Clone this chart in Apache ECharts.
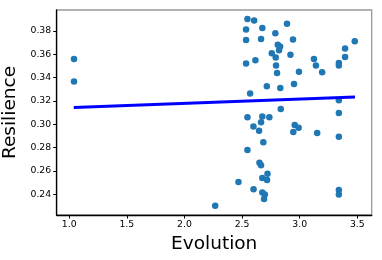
<!DOCTYPE html>
<html>
<head>
<meta charset="utf-8">
<script src="https://cdn.jsdelivr.net/npm/echarts@6/dist/echarts.min.js"></script>
<style>
  html, body { margin: 0; padding: 0; background: #fff; }
  #chart { width: 382px; height: 260px; }
</style>
</head>
<body>
<div id="chart"></div>
<script>
// scatter points
const evolution = [
  1.042, 1.042, 2.547, 2.605, 2.676, 2.535, 2.890, 2.789, 2.535, 2.665,
  2.810, 2.830, 2.821, 2.758, 2.792, 2.920, 2.535, 2.616, 2.795, 2.804,
  2.715, 2.832, 2.570, 2.836, 2.942, 2.994, 3.124, 3.141, 3.195, 3.394,
  3.394, 3.478, 3.340, 3.340, 2.951, 3.340, 2.547, 2.676, 2.737, 2.665,
  2.599, 2.648, 2.685, 2.547, 2.651, 2.665, 2.721, 2.676, 2.717, 2.469,
  2.600, 2.676, 2.698, 2.691, 2.267, 3.340, 2.957, 2.991, 2.945, 3.152,
  3.340, 3.340, 3.340
]
const resilience = [
  0.3560, 0.3366, 0.3903, 0.3889, 0.3826, 0.3812, 0.3863, 0.3781, 0.3723, 0.3732,
  0.3683, 0.3666, 0.3635, 0.3609, 0.3572, 0.3596, 0.3522, 0.3549, 0.3503, 0.3440,
  0.3326, 0.3312, 0.3263, 0.3132, 0.3726, 0.3451, 0.3560, 0.3503, 0.3446, 0.3649,
  0.3578, 0.3712, 0.3526, 0.3503, 0.3346, 0.3206, 0.3060, 0.3066, 0.3060, 0.3017,
  0.2981, 0.2945, 0.2846, 0.2780, 0.2671, 0.2649, 0.2576, 0.2540, 0.2523, 0.2505,
  0.2443, 0.2414, 0.2398, 0.2360, 0.2302, 0.3097, 0.2994, 0.2971, 0.2934, 0.2926,
  0.2894, 0.2437, 0.2397
]

// fitted line endpoints
const fitX = [1.04, 3.48]
const fitY = [0.3143, 0.3234]

const xTicks = [1.0, 1.5, 2.0, 2.5, 3.0, 3.5]
const yTicks = [0.24, 0.26, 0.28, 0.30, 0.32, 0.34, 0.36, 0.38]

const font = 'DejaVu Sans'
const chart = echarts.init(document.getElementById('chart'), null, { renderer: 'canvas' })

const option = {
  animation: false,
  grid: {
    left: 56.7, right: 10.3, top: 10, bottom: 45,
    outerBoundsMode: 'none',
    containLabel: false,
    show: true, borderColor: '#999', borderWidth: 1.3
  },
  xAxis: {
    type: 'value',
    min: 0.892,
    max: 3.625,
    name: 'Evolution',
    nameLocation: 'middle',
    nameGap: 18,
    nameTextStyle: { fontFamily: font, fontSize: 18.5, color: '#000' },
    axisLine: { show: true, onZero: false, lineStyle: { color: '#000', width: 1.3 } },
    axisTick: { show: true, customValues: xTicks, length: 3.5, lineStyle: { color: '#000', width: 1 } },
    axisLabel: {
      customValues: xTicks, margin: 5.5, fontFamily: font, fontSize: 9.3, color: '#000',
      formatter: v => v.toFixed(1)
    },
    splitLine: { show: false }
  },
  yAxis: {
    type: 'value',
    min: 0.2222,
    max: 0.398,
    name: 'Resilience',
    nameLocation: 'middle',
    nameGap: 25,
    nameTextStyle: { fontFamily: font, fontSize: 18.5, color: '#000' },
    axisLine: { show: true, onZero: false, lineStyle: { color: '#000', width: 1.3 } },
    axisTick: { show: true, customValues: yTicks, length: 3.5, lineStyle: { color: '#000', width: 1 } },
    axisLabel: {
      customValues: yTicks, margin: 5.5, fontFamily: font, fontSize: 9.3, color: '#000',
      formatter: v => v.toFixed(2)
    },
    splitLine: { show: false }
  },
  series: [
    {
      type: 'scatter',
      data: evolution.map((x, i) => [x, resilience[i]]),
      symbolSize: 6.5,
      itemStyle: { color: '#1f77b4', opacity: 1 },
      z: 2
    },
    {
      type: 'line',
      data: fitX.map((x, i) => [x, fitY[i]]),
      showSymbol: false,
      lineStyle: { color: '#0000ff', width: 3 },
      z: 3
    }
  ]
}

chart.setOption(option)
</script>
</body>
</html>
